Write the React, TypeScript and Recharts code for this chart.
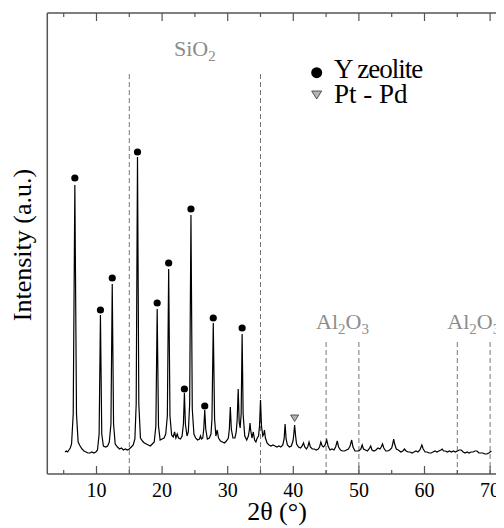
import { useEffect, useRef } from "react";
import {
  ComposedChart,
  Line,
  Scatter,
  XAxis,
  YAxis,
  ReferenceLine,
  ReferenceDot,
  Legend,
} from "recharts";

// XRD pattern: 2-theta in degrees, intensity in arbitrary units
const twoTheta = [
  5.2, 5.4, 5.6, 5.8, 6.0, 6.2, 6.45, 6.7, 6.95, 7.2, 7.5, 7.8, 8.1, 8.4, 8.7, 9.0, 9.3, 9.6, 9.9,
  10.15, 10.4, 10.6, 10.8, 11.05, 11.4, 11.7, 11.95, 12.2, 12.4, 12.6, 12.85, 13.2, 13.5, 13.8,
  14.1, 14.4, 14.7, 15.0, 15.3, 15.6, 15.85, 16.05, 16.25, 16.45, 16.7, 17.0, 17.3, 17.6, 17.9,
  18.2, 18.5, 18.8, 19.05, 19.25, 19.45, 19.7, 20.0, 20.3, 20.55, 20.8, 21.0, 21.2, 21.45, 21.7,
  21.9, 22.1, 22.3, 22.5, 22.8, 23.05, 23.25, 23.4, 23.55, 23.8, 24.0, 24.2, 24.4, 24.6, 24.85,
  25.1, 25.4, 25.7, 25.85, 26.0, 26.2, 26.35, 26.5, 26.65, 26.9, 27.2, 27.45, 27.6, 27.8, 28.0,
  28.2, 28.4, 28.6, 28.9, 29.2, 29.5, 29.8, 30.1, 30.25, 30.4, 30.55, 30.8, 31.1, 31.3, 31.45,
  31.6, 31.75, 31.9, 32.05, 32.2, 32.35, 32.6, 32.9, 33.15, 33.3, 33.4, 33.5, 33.7, 33.9, 34.1,
  34.3, 34.5, 34.7, 34.85, 35.0, 35.15, 35.35, 35.5, 35.6, 35.75, 36.0, 36.3, 36.6, 36.9, 37.2,
  37.5, 37.8, 38.1, 38.4, 38.6, 38.75, 38.9, 39.1, 39.4, 39.7, 39.95, 40.05, 40.2, 40.35, 40.5,
  40.8, 41.1, 41.35, 41.55, 41.75, 42.0, 42.2, 42.4, 42.6, 42.9, 43.2, 43.5, 43.8, 44.0, 44.2,
  44.4, 44.6, 44.85, 45.1, 45.3, 45.6, 45.9, 46.2, 46.45, 46.7, 46.9, 47.2, 47.5, 47.8, 48.1,
  48.4, 48.65, 48.9, 49.1, 49.4, 49.7, 50.0, 50.3, 50.5, 50.7, 51.0, 51.3, 51.55, 51.8, 52.0,
  52.3, 52.6, 52.9, 53.2, 53.4, 53.6, 53.8, 54.1, 54.4, 54.7, 55.0, 55.15, 55.3, 55.45, 55.7,
  56.0, 56.4, 56.7, 56.95, 57.2, 57.5, 57.8, 58.1, 58.4, 58.7, 59.0, 59.3, 59.6, 59.8, 60.1,
  60.4, 60.7, 61.0, 61.3, 61.6, 61.9, 62.2, 62.5, 62.7, 62.9, 63.2, 63.5, 63.8, 64.1, 64.4,
  64.7, 65.0, 65.3, 65.6, 65.9, 66.2, 66.5, 66.8, 67.1, 67.4, 67.7, 68.0, 68.3, 68.6, 68.9,
  69.2, 69.5, 69.8, 70.0, 70.2,
];

const intensity = [
  22, 23, 22, 24, 26, 30, 60, 289, 60, 32, 28, 25, 23, 22, 21, 21, 22, 21, 22,
  24, 40, 159, 40, 28, 27, 28, 32, 50, 190, 50, 30, 27, 25, 26,
  24, 25, 24, 25, 27, 29, 35, 70, 317, 70, 36, 33, 31, 30, 29,
  28, 30, 32, 48, 165, 48, 34, 35, 36, 40, 58, 205, 58, 39, 37,
  42, 36, 40, 36, 35, 38, 50, 81, 50, 38, 42, 70, 259, 65, 40,
  36, 34, 35, 38, 35, 36, 45, 64, 45, 35, 36, 40, 55, 151, 55,
  38, 44, 36, 33, 32, 31, 33, 36, 45, 67, 45, 36, 36, 42, 55,
  85, 52, 46, 60, 140, 60, 38, 34, 38, 44, 51, 44, 36, 42, 34,
  32, 36, 38, 48, 74, 48, 38, 40, 44, 36, 31, 29, 28, 29, 28,
  27, 28, 27, 29, 35, 50, 35, 29, 27, 28, 33, 38, 49, 38, 30,
  27, 26, 28, 31, 27, 25, 27, 32, 27, 25, 25, 24, 25, 27, 32,
  28, 27, 29, 34, 28, 24, 25, 24, 27, 33, 27, 24, 23, 23, 24,
  25, 28, 34, 27, 23, 23, 23, 25, 29, 25, 24, 23, 25, 28, 24,
  23, 24, 26, 25, 27, 30, 26, 23, 23, 24, 26, 30, 35, 30, 25,
  24, 22, 23, 25, 23, 22, 22, 21, 22, 23, 22, 24, 29, 25, 22,
  22, 21, 21, 22, 23, 22, 23, 24, 25, 23, 23, 22, 23, 22, 23,
  22, 23, 24, 24, 22, 21, 22, 21, 22, 22, 23, 23, 21, 21, 21,
  20, 20, 21, 22, 23,
];

// Y zeolite reflections (marker positions)
const zeoliteTheta = [6.7, 10.6, 12.4, 16.25, 19.25, 21.0, 23.4, 24.4, 26.5, 27.8, 32.2];
const zeoliteMark = [296, 164, 196, 322, 171, 211, 85, 265, 68, 156, 146];

// Pt - Pd reflection
const ptpdTheta = [40.2];
const ptpdMark = [56];

const xTicks = [5, 10, 15, 20, 25, 30, 35, 40, 45, 50, 55, 60, 65, 70];

// phase reference lines
const sio2Lines = [15, 35];
const al2o3Lines = [45, 50, 65, 70];

const curve = twoTheta.map((x, i) => ({ x, y: intensity[i] }));
const zeolite = zeoliteTheta.map((x, i) => ({ x, y: zeoliteMark[i] }));
const ptpd = ptpdTheta.map((x, i) => ({ x, y: ptpdMark[i] }));

const FONT = "Liberation Serif";
const AXIS = "#555";
const GREY = "#8c8c8c";

// svg text that keeps the serif face even if something else styles chart text
function SerifText({ children, ...rest }: any) {
  const ref = useRef<SVGTextElement>(null);
  useEffect(() => {
    ref.current?.style.setProperty("font-family", FONT, "important");
  });
  return (
    <text ref={ref} fontFamily={FONT} {...rest}>
      {children}
    </text>
  );
}

function BottomTick(props: any) {
  const { x, y, payload } = props;
  const major = payload.value % 10 === 0;
  return (
    <g>
      <line x1={x} x2={x} y1={y} y2={y - (major ? 8 : 4)} stroke={AXIS} strokeWidth={1.2} />
      {major && (
        <SerifText x={x} y={y + 22.7} textAnchor="middle" fontSize={20} fill="#000">
          {payload.value}
        </SerifText>
      )}
    </g>
  );
}

function TopTick(props: any) {
  const { x, y, payload } = props;
  const major = payload.value % 10 === 0;
  return <line x1={x} x2={x} y1={y} y2={y + (major ? 8 : 4)} stroke={AXIS} strokeWidth={1.2} />;
}

function XTitle() {
  return (
    <SerifText x={269} y={512} textAnchor="middle" fontSize={26} fill="#000">
      2θ (°)
    </SerifText>
  );
}

function YTitle() {
  return (
    <SerifText
      x={22.7}
      y={237}
      textAnchor="middle"
      fontSize={26}
      fill="#000"
      transform="rotate(-90, 22.7, 237)"
    >
      Intensity (a.u.)
    </SerifText>
  );
}

function Formula({ cx, cy, parts }: any) {
  return (
    <SerifText x={cx} y={cy} textAnchor="middle" fontSize={22} fill={GREY}>
      {parts.map((p: string, i: number) =>
        i % 2 === 1 ? (
          <tspan key={i} fontSize={15} dy={5}>
            {p}
          </tspan>
        ) : (
          <tspan key={i} dy={i === 0 ? 0 : -5}>
            {p}
          </tspan>
        )
      )}
    </SerifText>
  );
}

function LegendBox() {
  return (
    <svg width={140} height={64} style={{ display: "block" }}>
      <circle cx={8.7} cy={19.7} r={5.5} fill="#000" />
      <SerifText x={26} y={25} fontSize={27} letterSpacing={-1} fill="#000">
        Y zeolite
      </SerifText>
      <path d="M3.7,38 L13.7,38 L8.7,46 Z" fill="#b4b4b4" stroke="#333" strokeWidth={0.8} />
      <SerifText x={26} y={50} fontSize={27} fill="#000">
        Pt - Pd
      </SerifText>
    </svg>
  );
}

export default function App() {
  return (
    <div style={{ width: 496, height: 520, overflow: "hidden", fontFamily: FONT }}>
      <ComposedChart
        width={520}
        height={520}
        margin={{ top: 4, right: 21.5, bottom: 14, left: 38.3 }}
      >
        <XAxis
          dataKey="x"
          type="number"
          domain={[2.5, 72.5]}
          allowDataOverflow
          ticks={xTicks}
          interval={0}
          height={40}
          tickSize={0}
          tickMargin={0}
          tickLine={false}
          tick={<BottomTick />}
          axisLine={{ stroke: AXIS, strokeWidth: 1.5 }}
          label={<XTitle />}
        />
        <XAxis
          xAxisId="top"
          orientation="top"
          dataKey="x"
          type="number"
          domain={[2.5, 72.5]}
          allowDataOverflow
          ticks={xTicks}
          interval={0}
          height={1}
          tickSize={0}
          tickMargin={0}
          tickLine={false}
          tick={<TopTick />}
          axisLine={{ stroke: AXIS, strokeWidth: 1.5 }}
        />
        <YAxis
          dataKey="y"
          type="number"
          domain={[0, 461]}
          allowDataOverflow
          width={1}
          tick={false}
          tickLine={false}
          axisLine={{ stroke: AXIS, strokeWidth: 1.5 }}
          label={<YTitle />}
        />

        {sio2Lines.map((x) => (
          <ReferenceLine
            key={`s${x}`}
            segment={[{ x, y: 400 }, { x, y: 0 }]}
            stroke="#777"
            strokeDasharray="5 3"
            strokeWidth={1}
          />
        ))}
        {al2o3Lines.map((x) => (
          <ReferenceLine
            key={`a${x}`}
            segment={[{ x, y: 132 }, { x, y: 0 }]}
            stroke="#777"
            strokeDasharray="5 3"
            strokeWidth={1}
          />
        ))}

        <ReferenceDot
          x={25}
          y={418}
          r={0}
          shape={(p: any) => <Formula cx={p.cx} cy={p.cy} parts={["SiO", "2"]} />}
        />
        <ReferenceDot
          x={47.5}
          y={145}
          r={0}
          shape={(p: any) => <Formula cx={p.cx} cy={p.cy} parts={["Al", "2", "O", "3"]} />}
        />
        <ReferenceDot
          x={67.5}
          y={145}
          r={0}
          shape={(p: any) => <Formula cx={p.cx} cy={p.cy} parts={["Al", "2", "O", "3"]} />}
        />

        <Line
          data={curve}
          dataKey="y"
          type="linear"
          stroke="#000"
          strokeWidth={1.2}
          dot={false}
          isAnimationActive={false}
        />
        <Scatter
          name="Y zeolite"
          data={zeolite}
          dataKey="y"
          isAnimationActive={false}
          shape={(p: any) => <circle cx={p.cx} cy={p.cy} r={3.6} fill="#000" />}
        />
        <Scatter
          name="Pt - Pd"
          data={ptpd}
          dataKey="y"
          isAnimationActive={false}
          shape={(p: any) => (
            <path
              d={`M${p.cx - 4},${p.cy - 3} L${p.cx + 4},${p.cy - 3} L${p.cx},${p.cy + 3.5} Z`}
              fill="#b4b4b4"
              stroke="#333"
              strokeWidth={0.8}
            />
          )}
        />

        <Legend
          layout="vertical"
          align="center"
          verticalAlign="middle"
          wrapperStyle={{ position: "absolute", left: 300, top: 45, width: 140, height: 64 }}
          content={() => <LegendBox />}
        />
      </ComposedChart>
    </div>
  );
}
